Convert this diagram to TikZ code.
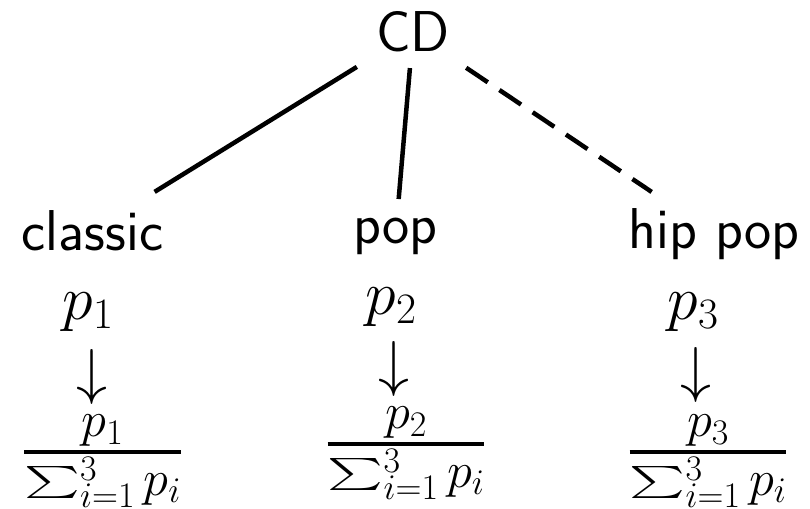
\RequirePackage{fix-cm}
\documentclass[tikz,border=0pt]{standalone}
\usepackage{graphicx}
\usepackage{fontspec}
\newcommand\mysum{\mathop{\vcenter{\hbox{\scalebox{5.3}[3.2]{\fontsize{10}{12}\selectfont$\sum$}}}}\nolimits}
\newcommand\myfrac[2]{{#1\above 3.6pt #2}}
\begin{document}
\begin{tikzpicture}[x=1pt,y=-1pt,
  labelfont/.style={font=\fontsize{57.6}{60}\selectfont\sffamily, inner sep=0pt, anchor=base},
  mathbig/.style={font=\fontsize{62}{66}\selectfont, inner sep=0pt, anchor=base},
  fracnode/.style={font=\fontsize{72}{80}\selectfont, inner sep=0pt, anchor=base},
  edgeline/.style={line width=4.5pt},
  dashedge/.style={line width=4.5pt, dash pattern=on 26pt off 14pt}]
\useasboundingbox (0,0) rectangle (810,508);
% tree nodes
\node[labelfont] (cd) at (413,52) {CD};
\node[labelfont] (classic) at (92.5,250) {classic};
\node[labelfont] (pop) at (395.5,243) {pop};
\node[labelfont] (hippop) at (714,248) {hip pop};
% probabilities
\node[mathbig] (p1) at (88,319) {$p_1$};
\node[mathbig] (p2) at (391,314) {$p_2$};
\node[mathbig] (p3) at (693,319) {$p_3$};
% arrows
\node[mathbig] (a1) at (92,392) {$\downarrow$};
\node[mathbig] (a2) at (394,384) {$\downarrow$};
\node[mathbig] (a3) at (696,390) {$\downarrow$};
% normalised
\node[fracnode] (f1) at (102.5,470) {$\myfrac{p_1}{\mysum_{i=1}^3 p_i}$};
\node[fracnode] (f2) at (406,462) {$\myfrac{p_2}{\mysum_{i=1}^3 p_i}$};
\node[fracnode] (f3) at (708,470) {$\myfrac{p_3}{\mysum_{i=1}^3 p_i}$};
% edges
\draw[edgeline, shorten <=66pt, shorten >=73pt] (cd.center) -- (classic.center);
\draw[edgeline, shorten <=36pt, shorten >=37pt] (cd.center) -- (pop.center);
\draw[dashedge, shorten <=64pt, shorten >=75pt] (cd.center) -- (hippop.center);
\end{tikzpicture}
\end{document}
